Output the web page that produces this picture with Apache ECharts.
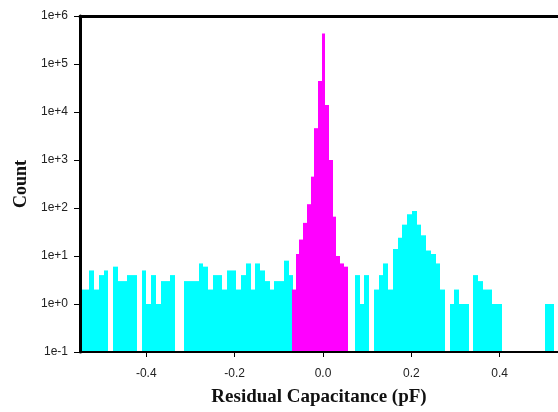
<!DOCTYPE html>
<html>
<head>
<meta charset="utf-8">
<script src="https://cdn.jsdelivr.net/npm/echarts@6/dist/echarts.min.js"></script>
<style>
  html, body { margin: 0; padding: 0; background: #fff; }
  #chart { width: 558px; height: 412px; }
</style>
</head>
<body>
<div id="chart"></div>
<script>
// histogram bins (pF), counts
var cyanStart = -0.55;
var cyanWidth = 0.01073;
var cyanCounts = [
  2, 2, 5, 2, 4, 5, 0, 6, 3, 3,
  4, 4, 0, 5, 1, 4, 1, 3, 3, 4,
  0, 0, 3, 3, 3, 7, 6, 2, 4, 4,
  2, 5, 5, 2, 4, 7, 2, 7, 5, 3,
  2, 3, 3, 8, 4, 0, 0, 0, 0, 0,
  0, 0, 0, 0, 0, 0, 0, 0, 4, 1,
  4, 0, 2, 4, 7, 2, 14, 24, 45, 74,
  87, 45, 27, 13, 11, 7, 2, 0, 1, 2,
  1, 1, 0, 4, 3, 2, 2, 1, 1, 0,
  0, 0, 0, 0, 0, 0, 0, 0, 1, 1,
  0
];

var magentaStart = -0.0702;
var magentaWidth = 0.0084;
var magentaCounts = [2, 11, 22, 49, 120, 450, 4600, 44000, 430000, 14000, 1000, 66, 10, 7, 6];

var xTicks = [-0.4, -0.2, 0, 0.2, 0.4];

// bins -> [left, right, count], empty bins skipped (log axis)
var toBins = function(start, width, counts) {
  var out = [];
  for (var i = 0; i < counts.length; i++) {
    if (counts[i] > 0) {
      out.push([start + i * width, start + (i + 1) * width, counts[i]]);
    }
  }
  return out;
};

// one rect per bin, snapped to whole pixels so neighbours touch
var histItem = function(params, api) {
  var topLeft = api.coord([api.value(0), api.value(2)]);
  var bottomRight = api.coord([api.value(1), 0.1]);
  var x0 = Math.round(topLeft[0]);
  var x1 = Math.round(bottomRight[0]);
  return {
    type: 'rect',
    shape: {
      x: x0,
      y: topLeft[1],
      width: x1 - x0,
      height: bottomRight[1] - topLeft[1]
    },
    style: { fill: api.visual('color') }
  };
};

var myChart = echarts.init(document.getElementById('chart'));

var option = {
  animation: false,
  backgroundColor: '#fff',
  grid: { left: 80, right: 0, top: 16, bottom: 56 },
  xAxis: [
    {
      type: 'value',
      min: -0.55,
      max: 0.532,
      position: 'bottom',
      z: 5,
      name: 'Residual Capacitance (pF)',
      nameLocation: 'middle',
      nameGap: 36,
      nameTextStyle: { fontFamily: 'Liberation Serif', fontWeight: 'bold', fontSize: 19, color: '#111' },
      axisLine: { onZero: false, lineStyle: { color: '#000', width: 2 } },
      axisTick: { show: true, length: 5, customValues: xTicks, lineStyle: { color: '#000' } },
      axisLabel: {
        customValues: xTicks,
        margin: 16,
        fontFamily: 'Liberation Sans',
        fontSize: 12,
        color: '#222',
        formatter: function(v) { return v.toFixed(1); }
      },
      splitLine: { show: false }
    },
    {
      type: 'value',
      min: -0.55,
      max: 0.532,
      position: 'top',
      z: 5,
      axisLine: { onZero: false, lineStyle: { color: '#000', width: 3 } },
      axisTick: { show: false },
      axisLabel: { show: false },
      splitLine: { show: false }
    }
  ],
  yAxis: {
    type: 'log',
    logBase: 10,
    min: 0.1,
    max: 1e6,
    z: 5,
    name: 'Count',
    nameLocation: 'middle',
    nameGap: 48,
    nameTextStyle: { fontFamily: 'Liberation Serif', fontWeight: 'bold', fontSize: 18, color: '#111' },
    axisLine: { show: true, onZero: false, lineStyle: { color: '#000', width: 3 } },
    axisTick: { show: true, length: 6, lineStyle: { color: '#000' } },
    axisLabel: {
      margin: 12,
      fontFamily: 'Liberation Sans',
      fontSize: 12,
      color: '#222',
      formatter: function(v) { return Number(v).toExponential(0); }
    },
    splitLine: { show: false },
    minorTick: { show: false }
  },
  series: [
    {
      name: 'other',
      type: 'custom',
      renderItem: histItem,
      clip: true,
      itemStyle: { color: '#00FFFF' },
      encode: { x: [0, 1], y: 2 },
      data: toBins(cyanStart, cyanWidth, cyanCounts)
    },
    {
      name: 'center',
      type: 'custom',
      renderItem: histItem,
      clip: true,
      itemStyle: { color: '#FF00FF' },
      encode: { x: [0, 1], y: 2 },
      data: toBins(magentaStart, magentaWidth, magentaCounts)
    }
  ]
};

myChart.setOption(option);
</script>
</body>
</html>
